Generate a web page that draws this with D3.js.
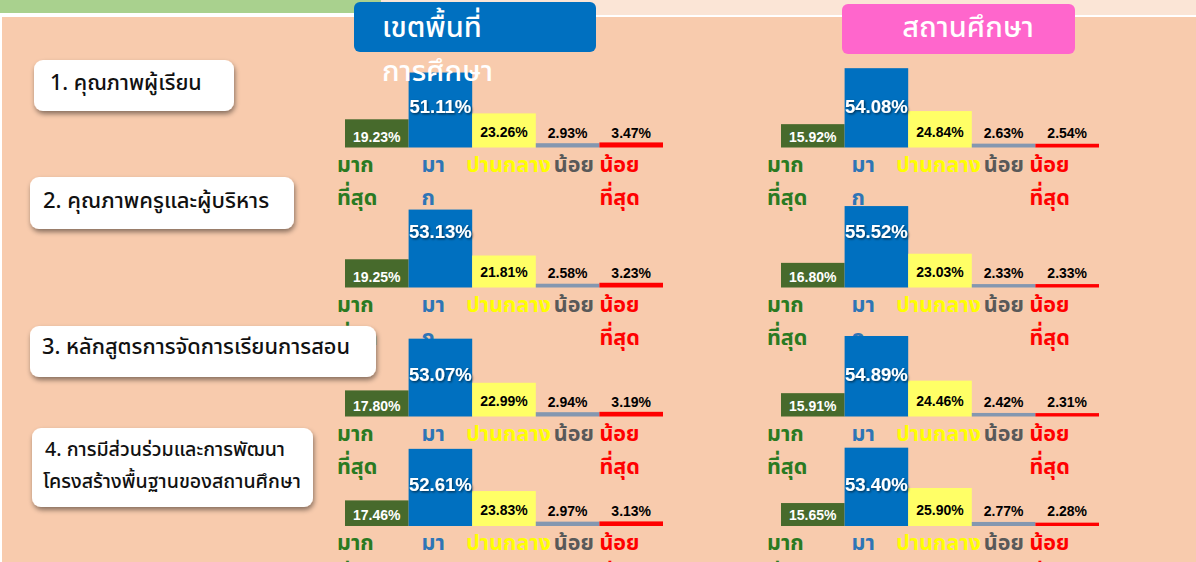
<!DOCTYPE html>
<html>
<head>
<meta charset="utf-8">
<script src="https://cdn.jsdelivr.net/npm/d3@7"></script>
<style>
	body { margin: 0; background: #fff; }
	svg { display: block; }
	.pct { font-family: "Liberation Sans", Arial, sans-serif; font-weight: bold; }
	.thai { font-family: Tahoma, "Noto Sans Thai", "Leelawadee UI", "Noto Sans", "DejaVu Sans", sans-serif; }
</style>
</head>
<body>
<div id="chart"></div>
<script>
// categories (full name and how it wraps in the narrow label box)
var categories = ["มากที่สุด", "มาก", "ปานกลาง", "น้อย", "น้อยที่สุด"];
var categoryLines = [["มาก", "ที่สุด"], ["มา", "ก"], ["ปานกลาง"], ["น้อย"], ["น้อย", "ที่สุด"]];

var topics = [
	["1. คุณภาพผู้เรียน"],
	["2. คุณภาพครูและผู้บริหาร"],
	["3. หลักสูตรการจัดการเรียนการสอน"],
	["4. การมีส่วนร่วมและการพัฒนา", "โครงสร้างพื้นฐานของสถานศึกษา"]
];

var groups = ["เขตพื้นที่การศึกษา", "สถานศึกษา"];

// percent per topic, for each group
var areaValues = [
	[19.23, 51.11, 23.26, 2.93, 3.47],
	[19.25, 53.13, 21.81, 2.58, 3.23],
	[17.80, 53.07, 22.99, 2.94, 3.19],
	[17.46, 52.61, 23.83, 2.97, 3.13]
];
var schoolValues = [
	[15.92, 54.08, 24.84, 2.63, 2.54],
	[16.80, 55.52, 23.03, 2.33, 2.33],
	[15.91, 54.89, 24.46, 2.42, 2.31],
	[15.65, 53.40, 25.90, 2.77, 2.28]
];

var width = 1196;
var height = 562;

var barColors = ["#476a2c", "#0070c0", "#ffff66", "#8497b0", "#ff0000"];
var textColors = ["#2a7a22", "#2e75b6", "#ffff00", "#595959", "#ff0000"];
var pctColors = ["#fff", "#fff", "#000", "#000", "#000"];

var svg = d3.select("#chart").append("svg")
	.attr("width", width)
	.attr("height", height);

var defs = svg.append("defs");
defs.append("filter").attr("id", "boxShadow")
	.attr("x", "-10%").attr("y", "-20%").attr("width", "130%").attr("height", "160%")
	.append("feDropShadow")
		.attr("dx", 1).attr("dy", 3).attr("stdDeviation", 2.5)
		.attr("flood-color", "#000").attr("flood-opacity", 0.45);
defs.append("filter").attr("id", "textShadow")
	.append("feDropShadow")
		.attr("dx", 1.2).attr("dy", 1.2).attr("stdDeviation", 0.8)
		.attr("flood-color", "#000").attr("flood-opacity", 0.6);

// - background -
svg.append("rect").attr("x", 0).attr("y", 0).attr("width", 381).attr("height", 13).attr("fill", "#a9d18e");
svg.append("rect").attr("x", 381).attr("y", 0).attr("width", width - 381).attr("height", 15).attr("fill", "#fbe5d6");
svg.append("rect").attr("x", 2).attr("y", 17).attr("width", width - 2).attr("height", height - 17).attr("fill", "#f8cbad");

// - scales -
var x = d3.scaleBand()
	.domain(categories)
	.range([0, 318])
	.padding(0);

var y = d3.scaleLinear()
	.domain([0, 60])
	.range([0, 88]);

var chartX = [345, 781];
var baseY = [147.5, 287.5, 416.5, 526];
var blueDy = [35, 50, 36, 35];
var labelDx = [-8, 13, -6, 18, 0];
var colShift = [0, -6];

function drawChart(values, row, col) {
	var g = svg.append("g")
		.attr("transform", "translate(" + chartX[col] + "," + baseY[row] + ")");

	g.selectAll(".bar")
		.data(values)
		.enter().append("rect")
			.attr("class", "bar")
			.attr("x", function(d, i) { return x(categories[i]); })
			.attr("y", function(d) { return -y(d); })
			.attr("width", x.bandwidth())
			.attr("height", function(d) { return y(d); })
			.attr("fill", function(d, i) { return barColors[i]; });

	g.selectAll(".pct")
		.data(values)
		.enter().append("text")
			.attr("class", "pct")
			.attr("x", function(d, i) { return x(categories[i]) + x.bandwidth() / 2; })
			.attr("y", function(d, i) {
				if (i == 1) return -blueDy[row];
				if (i == 0) return -6;
				if (i == 2) return -11;
				return -10;
			})
			.attr("text-anchor", "middle")
			.attr("font-size", function(d, i) { return i == 1 ? 18.5 : 14; })
			.attr("fill", function(d, i) { return pctColors[i]; })
			.attr("filter", function(d, i) { return i == 1 ? "url(#textShadow)" : null; })
			.text(function(d) { return d.toFixed(2) + "%"; });

	var lab = g.selectAll(".cat")
		.data(categoryLines)
		.enter().append("text")
			.attr("class", "thai")
			.attr("x", function(d, i) { return x(categories[i]) + labelDx[i] + colShift[col]; })
			.attr("y", 24)
			.attr("font-size", 21.5)
			.attr("font-weight", "bold")
			.attr("fill", function(d, i) { return textColors[i]; });

	lab.selectAll("tspan")
		.data(function(d) { return d; })
		.enter().append("tspan")
			.attr("x", function() { return d3.select(this.parentNode).attr("x"); })
			.attr("dy", function(d, j) { return j ? 33 : 0; })
			.text(function(d) { return d; });
}

for (var r = 0; r < topics.length; r++) {
	drawChart(areaValues[r], r, 0);
	drawChart(schoolValues[r], r, 1);
}

// - group headers -
var headers = [
	{ x: 354, y: 2, w: 242, h: 50, fill: "#0070c0", lines: ["เขตพื้นที่", "การศึกษา"], tx: 382, anchor: "start" },
	{ x: 842, y: 4, w: 233, h: 50, fill: "#ff66cc", lines: ["สถานศึกษา"], tx: 968, anchor: "middle" }
];

headers.forEach(function(h, i) {
	svg.append("rect")
		.attr("x", h.x).attr("y", h.y)
		.attr("width", h.w).attr("height", h.h)
		.attr("rx", 6)
		.attr("fill", h.fill);
	svg.append("text")
		.attr("class", "thai")
		.attr("x", h.tx)
		.attr("y", 37)
		.attr("text-anchor", h.anchor)
		.attr("font-size", 29)
		.attr("font-weight", 500)
		.attr("fill", "#fff")
		.attr("data-group", groups[i])
		.selectAll("tspan")
		.data(h.lines)
		.enter().append("tspan")
			.attr("x", h.tx)
			.attr("dy", function(d, j) { return j ? 44 : 0; })
			.text(function(d) { return d; });
});

// - topic boxes -
var boxes = [
	{ x: 34, y: 60, w: 200, h: 51, ty: 90, tx: 50, fs: 21.5 },
	{ x: 30, y: 177, w: 264, h: 52, ty: 208, tx: 43, fs: 22 },
	{ x: 30, y: 326, w: 346, h: 51, ty: 354, tx: 42, fs: 21.8 },
	{ x: 32, y: 428, w: 281, h: 79, ty: 456, tx: 45, fs: 19.6 }
];

boxes.forEach(function(b, i) {
	svg.append("rect")
		.attr("x", b.x).attr("y", b.y)
		.attr("width", b.w).attr("height", b.h)
		.attr("rx", 9)
		.attr("fill", "#fff")
		.attr("filter", "url(#boxShadow)");
	svg.append("text")
		.attr("class", "thai")
		.attr("x", b.tx)
		.attr("y", b.ty)
		.attr("font-size", b.fs)
		.attr("font-weight", 500)
		.attr("fill", "#111")
		.selectAll("tspan")
		.data(topics[i])
		.enter().append("tspan")
			.attr("x", function(d, j) { return b.tx - j * 2; })
			.attr("dy", function(d, j) { return j ? 32 : 0; })
			.text(function(d) { return d; });
});
</script>
</body>
</html>
